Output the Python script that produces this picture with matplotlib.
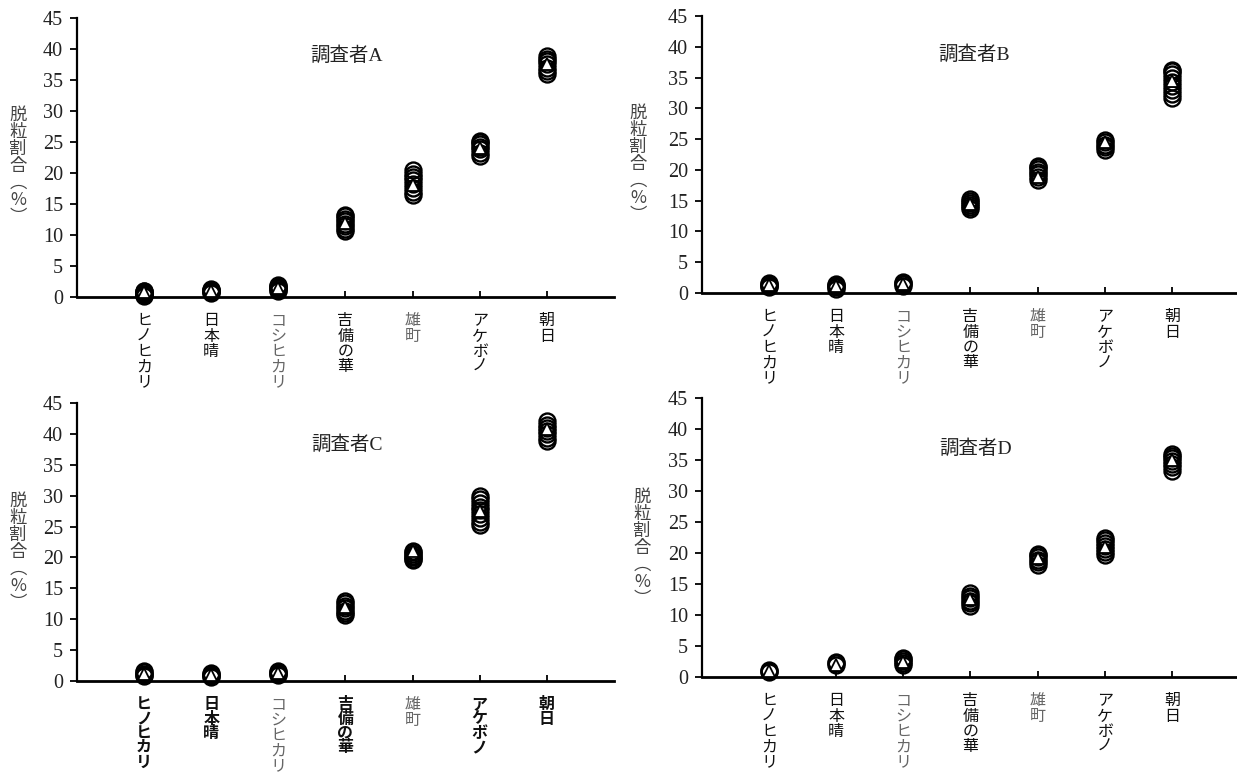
import matplotlib
matplotlib.use('Agg')
import matplotlib.pyplot as plt

# ---- Data: shattering ratio (%) per cultivar, four observers ----

varieties = ['ヒノヒカリ', '日本晴', 'コシヒカリ', '吉備の華', '雄町', 'アケボノ', '朝日']
observers = ['調査者A', '調査者B', '調査者C', '調査者D']

# replicate measurements (open circles)
reps_a = [
    [0.2, 0.4, 0.5, 0.6, 0.7, 0.8, 0.9, 1.0],
    [0.6, 0.8, 0.9, 1.0, 1.1, 1.2, 1.3],
    [1.0, 1.2, 1.4, 1.5, 1.6, 1.8, 2.0],
    [10.7, 11.0, 11.4, 11.8, 12.2, 12.6, 13.0, 13.3],
    [16.5, 17.0, 17.6, 18.2, 18.8, 19.4, 19.9, 20.4],
    [22.8, 23.3, 23.8, 24.2, 24.6, 25.0, 25.2],
    [36.0, 36.5, 37.0, 37.5, 38.0, 38.4, 38.8],
]
reps_b = [
    [0.9, 1.1, 1.3, 1.5, 1.7],
    [0.6, 0.9, 1.1, 1.3, 1.5],
    [1.2, 1.4, 1.6, 1.8],
    [13.6, 14.0, 14.3, 14.6, 14.9, 15.2],
    [18.4, 18.8, 19.3, 19.7, 20.1, 20.4, 20.7],
    [23.3, 23.7, 24.1, 24.5, 24.9],
    [31.7, 32.3, 33.0, 33.6, 34.3, 35.0, 35.6, 36.0, 36.3],
]
reps_c = [
    [0.8, 1.0, 1.2, 1.4, 1.6],
    [0.6, 0.8, 1.0, 1.2, 1.3],
    [0.9, 1.1, 1.3, 1.5, 1.6],
    [10.6, 11.0, 11.4, 11.8, 12.2, 12.6, 12.9],
    [19.6, 19.8, 20.0, 20.3, 20.6, 20.9, 21.1],
    [25.3, 25.8, 26.4, 27.0, 27.6, 28.2, 28.8, 29.4, 29.9],
    [38.9, 39.4, 39.9, 40.4, 40.9, 41.4, 42.0],
]
reps_d = [
    [0.8, 1.0, 1.2],
    [2.0, 2.2, 2.4],
    [2.0, 2.3, 2.6, 2.9, 3.1],
    [11.5, 11.9, 12.3, 12.7, 13.1, 13.5],
    [18.1, 18.5, 18.9, 19.3, 19.6, 19.9],
    [19.6, 20.1, 20.6, 21.1, 21.6, 22.1, 22.5],
    [33.3, 33.8, 34.3, 34.8, 35.3, 35.7, 36.0],
]

# averages (triangles)
mean_a = [0.8, 1.0, 1.5, 12.0, 18.0, 24.0, 37.5]
mean_b = [1.3, 1.2, 1.5, 14.4, 18.8, 24.5, 34.5]
mean_c = [1.2, 1.0, 1.3, 12.0, 21.0, 27.5, 40.8]
mean_d = [0.9, 2.0, 2.4, 12.6, 19.2, 21.0, 35.0]

yticks = [0, 5, 10, 15, 20, 25, 30, 35, 40, 45]

# ---- Style ----
CJK = 'Noto Sans CJK JP'
SERIF = ['Liberation Serif', CJK]
plt.rcParams['font.family'] = SERIF

# [left, bottom, width, height] in figure fraction
panel_rects = [
    [0.0622, 0.6163, 0.4341, 0.3605],
    [0.5675, 0.6214, 0.4341, 0.3579],
    [0.0622, 0.1202, 0.4341, 0.3592],
    [0.5675, 0.1253, 0.4341, 0.3605],
]
title_pos = [(3.02, 39.0), (3.06, 38.8), (3.02, 38.3), (3.08, 36.9)]
ylabel_pos = [(-0.110, 0.470), (-0.119, 0.466), (-0.110, 0.464), (-0.112, 0.463)]
light = {'コシヒカリ', '雄町'}
bold_panel = [False, False, True, False]


def draw_panel(ax, reps, means, title, tpos, lpos, bold):
    for i, vals in enumerate(reps):
        ax.plot([i] * len(vals), vals, 'o', ms=11.5, mfc='none', mec='black',
                mew=1.7, clip_on=False, zorder=3)
    ax.plot(range(len(means)), means, '^', ms=9, mfc='white', mec='black',
            mew=1.3, clip_on=False, zorder=4)

    ax.set_xlim(-1, 7)
    ax.set_ylim(0, 45)
    ax.set_yticks(yticks)
    ax.set_xticks(range(len(varieties)))
    ax.set_xticklabels(['\n'.join(v) for v in varieties], family=CJK,
                       fontsize=11.5, va='top', linespacing=0.87)
    for lab, name in zip(ax.get_xticklabels(), varieties):
        if name in light:
            lab.set_color('#666')
        else:
            lab.set_color('#111')
            if bold:
                lab.set_fontweight('bold')

    for s in ['top', 'right']:
        ax.spines[s].set_visible(False)
    ax.spines['left'].set_linewidth(1.6)
    ax.spines['bottom'].set_linewidth(2.0)
    ax.tick_params(axis='y', direction='out', length=5, width=1.3,
                   labelsize=14.5, pad=5, labelcolor='#222')
    ax.tick_params(axis='x', direction='in', length=4, width=1.3, pad=11)

    ax.text(tpos[0], tpos[1], title, ha='center', va='center',
            fontsize=14, family=SERIF, color='#222')
    ax.text(lpos[0], lpos[1], '\n'.join('脱粒割合︵%︶'), transform=ax.transAxes,
            ha='center', va='center', fontsize=12.5, family=CJK,
            color='#444', linespacing=0.93)


fig = plt.figure(figsize=(12.37, 7.74), dpi=100)
all_reps = [reps_a, reps_b, reps_c, reps_d]
all_means = [mean_a, mean_b, mean_c, mean_d]
for k in range(4):
    ax = fig.add_axes(panel_rects[k])
    draw_panel(ax, all_reps[k], all_means[k], observers[k],
               title_pos[k], ylabel_pos[k], bold_panel[k])

fig.savefig('out.png', dpi=100)
